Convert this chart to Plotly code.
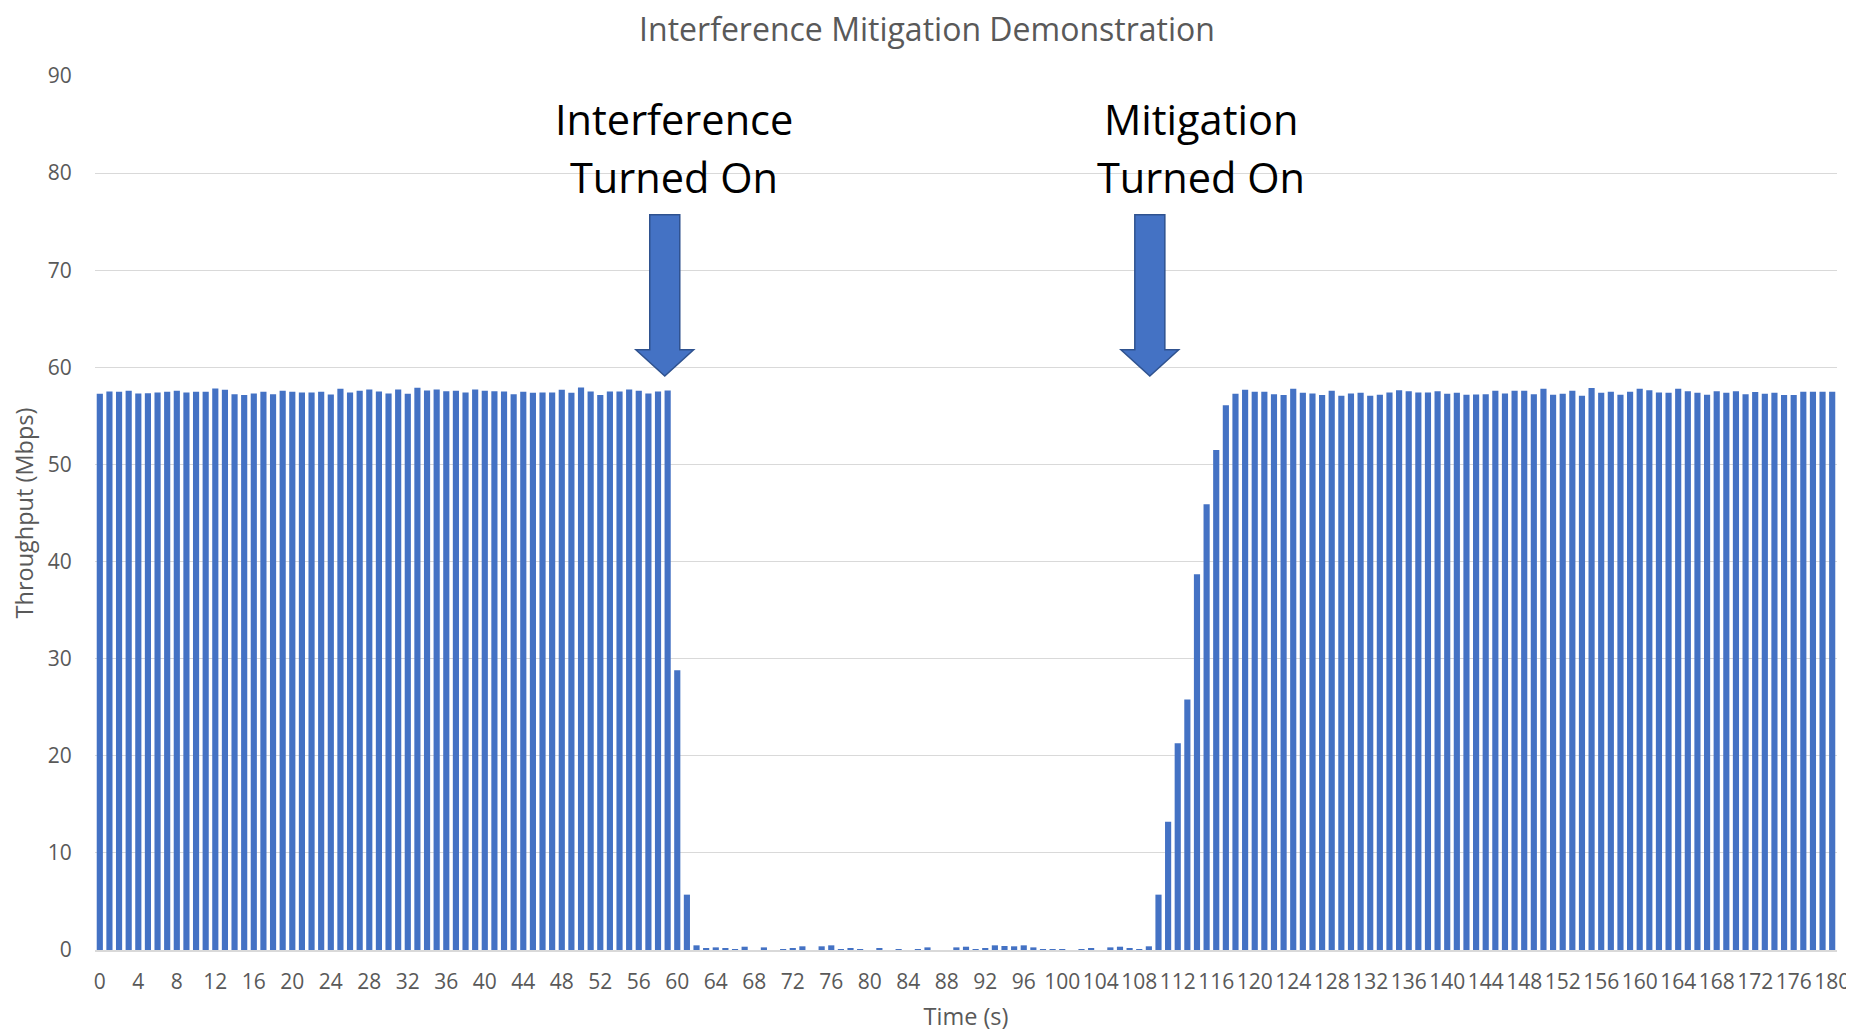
import plotly.graph_objects as go

# ---------------- data ----------------
time_s = list(range(0, 181))

throughput_mbps = [
    # 0-59 : before interference
    57.27, 57.51, 57.48, 57.58, 57.31, 57.34, 57.41, 57.48, 57.58, 57.41,
    57.48, 57.48, 57.82, 57.68, 57.24, 57.14, 57.31, 57.48, 57.24, 57.58,
    57.48, 57.41, 57.41, 57.48, 57.21, 57.79, 57.41, 57.58, 57.72, 57.51,
    57.31, 57.72, 57.27, 57.89, 57.62, 57.72, 57.55, 57.58, 57.41, 57.72,
    57.58, 57.55, 57.51, 57.24, 57.48, 57.38, 57.41, 57.41, 57.68, 57.38,
    57.92, 57.51, 57.14, 57.51, 57.51, 57.72, 57.58, 57.31, 57.51, 57.62,
    # 60-61 : interference turned on
    28.8, 5.7,
    # 62-109 : interference
    0.48, 0.14, 0.27, 0.14, 0.07, 0.34, 0.00, 0.27, 0.00, 0.07,
    0.14, 0.38, 0.00, 0.38, 0.48, 0.07, 0.17, 0.07, 0.00, 0.14,
    0.00, 0.07, 0.00, 0.07, 0.27, 0.00, 0.00, 0.27, 0.34, 0.07,
    0.17, 0.48, 0.41, 0.38, 0.48, 0.27, 0.07, 0.07, 0.05, 0.00,
    0.07, 0.17, 0.00, 0.27, 0.34, 0.17, 0.07, 0.38,
    # 110-117 : mitigation ramp
    5.7, 13.2, 21.3, 25.8, 38.7, 45.9, 51.5, 56.1,
    # 118-180 : recovered
    57.27, 57.68, 57.48, 57.48, 57.24, 57.14, 57.79, 57.38, 57.31, 57.14,
    57.58, 57.07, 57.31, 57.38, 57.07, 57.17, 57.41, 57.65, 57.55, 57.41,
    57.41, 57.55, 57.27, 57.38, 57.17, 57.21, 57.24, 57.58, 57.31, 57.58,
    57.58, 57.24, 57.79, 57.17, 57.27, 57.58, 57.07, 57.86, 57.38, 57.48,
    57.17, 57.48, 57.79, 57.65, 57.41, 57.38, 57.79, 57.55, 57.38, 57.17,
    57.55, 57.38, 57.55, 57.24, 57.45, 57.27, 57.38, 57.14, 57.14, 57.48,
    57.48, 57.48, 57.48,
]

x_tick_vals = list(range(0, 181, 4))
x_tick_text = [str(v) for v in x_tick_vals]
y_tick_vals = list(range(0, 91, 10))

chart_title = "Interference Mitigation Demonstration"
x_title = "Time (s)"
y_title = "Throughput (Mbps)"

# callouts: (text lines, text x, arrow tip x)
callout_lines = [["Interference", "Turned On"], ["Mitigation", "Turned On"]]
callout_text_x = [59.7, 114.4]
callout_arrow_x = [58.7, 109.1]

BAR_COLOR = "#4472C4"
FONT = "Open Sans"

# page body has an 8px margin: figure is sized/offset to compensate
FIG_W, FIG_H = 1846, 1024

fig = go.Figure()
fig.add_trace(go.Bar(
    x=time_s, y=throughput_mbps,
    marker=dict(color=BAR_COLOR, line=dict(width=0)),
    showlegend=False,
))

# block arrows (in data coordinates)
shaft_hw, head_hw = 1.56, 3.0
y_top, y_head, y_tip = 75.7, 61.8, 59.1
for ax_ in callout_arrow_x:
    path = (f"M {ax_-shaft_hw},{y_top} L {ax_+shaft_hw},{y_top} L {ax_+shaft_hw},{y_head} "
            f"L {ax_+head_hw},{y_head} L {ax_},{y_tip} L {ax_-head_hw},{y_head} "
            f"L {ax_-shaft_hw},{y_head} Z")
    fig.add_shape(type="path", path=path, xref="x", yref="y",
                  fillcolor=BAR_COLOR, line=dict(color="#2F528F", width=1.5))

line_y = [85.6, 79.6]
for lines, tx in zip(callout_lines, callout_text_x):
    for ln, ly in zip(lines, line_y):
        fig.add_annotation(x=tx, y=ly, xref="x", yref="y", text=ln, showarrow=False,
                           xanchor="center", yanchor="middle",
                           font=dict(family=FONT, size=41.5, color="#000000"))

fig.update_layout(
    width=FIG_W, height=FIG_H,
    paper_bgcolor="white", plot_bgcolor="white",
    margin=dict(l=87, r=17, t=68, b=82),
    bargap=0.36,
    title=dict(text=chart_title, x=(927 - 8) / FIG_W, xref="container", xanchor="center",
               y=1 - 22 / FIG_H, yref="container", yanchor="middle",
               font=dict(family=FONT, size=32, color="#595959")),
    font=dict(family=FONT, color="#595959"),
)

fig.update_xaxes(
    range=[-0.5, 180.5], tickmode="array", tickvals=x_tick_vals, ticktext=x_tick_text,
    tickfont=dict(family=FONT, size=21, color="#595959"),
    ticks="outside", ticklen=12, tickcolor="rgba(0,0,0,0)",
    showgrid=False, showline=True, linecolor="#D9D9D9", linewidth=1.5,
    zeroline=False, automargin=False,
    title=dict(text=x_title, standoff=22, font=dict(family=FONT, size=23.5, color="#595959")),
)
fig.update_yaxes(
    range=[0, 90], tickmode="array", tickvals=y_tick_vals,
    tickfont=dict(family=FONT, size=21, color="#595959"),
    ticks="outside", ticklen=18, tickcolor="rgba(0,0,0,0)",
    showgrid=True, gridcolor="#D9D9D9", gridwidth=1.2,
    zeroline=False, showline=False, automargin=False,
    title=dict(text=y_title, standoff=10, font=dict(family=FONT, size=23.5, color="#595959")),
)

fig.write_html("out.html")
